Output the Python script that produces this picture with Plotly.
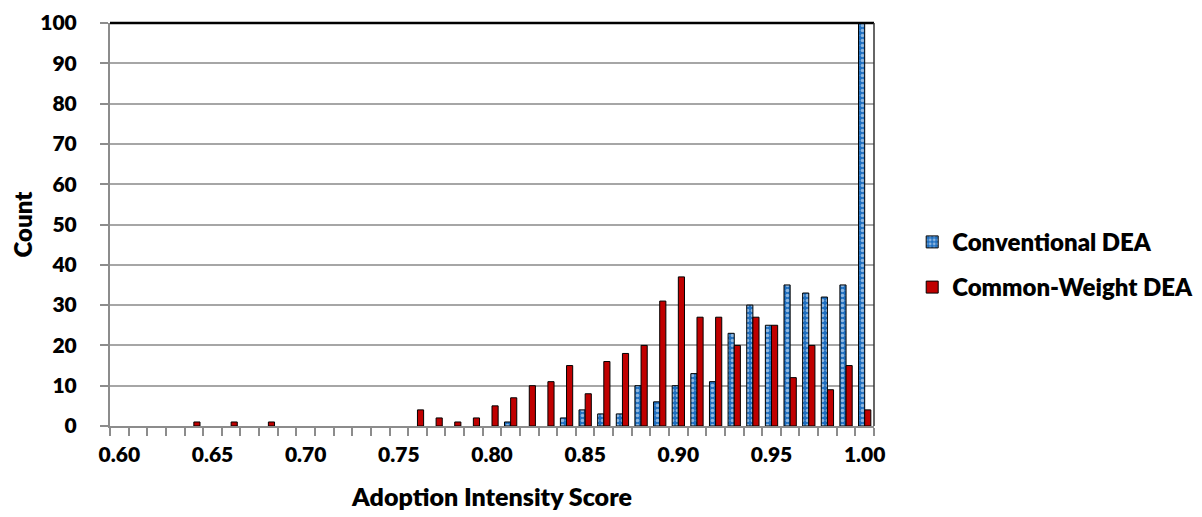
import plotly.graph_objects as go

scores = [0.60, 0.61, 0.62, 0.63, 0.64, 0.65, 0.66, 0.67, 0.68, 0.69,
          0.70, 0.71, 0.72, 0.73, 0.74, 0.75, 0.76, 0.77, 0.78, 0.79,
          0.80, 0.81, 0.82, 0.83, 0.84, 0.85, 0.86, 0.87, 0.88, 0.89,
          0.90, 0.91, 0.92, 0.93, 0.94, 0.95, 0.96, 0.97, 0.98, 0.99, 1.00]

conventional = [0, 0, 0, 0, 0, 0, 0, 0, 0, 0,
                0, 0, 0, 0, 0, 0, 0, 0, 0, 0,
                0, 1, 0, 0, 2, 4, 3, 3, 10, 6,
                10, 13, 11, 23, 30, 25, 35, 33, 32, 35, 100]

common_weight = [0, 0, 0, 0, 1, 0, 1, 0, 1, 0,
                 0, 0, 0, 0, 0, 0, 4, 2, 1, 2,
                 5, 7, 10, 11, 15, 8, 16, 18, 20, 31,
                 37, 27, 27, 20, 27, 25, 12, 20, 9, 15, 4]

x_tick_vals = [0.60, 0.65, 0.70, 0.75, 0.80, 0.85, 0.90, 0.95, 1.00]
x_tick_text = ["0.60", "0.65", "0.70", "0.75", "0.80", "0.85", "0.90", "0.95", "1.00"]
y_tick_vals = [0, 10, 20, 30, 40, 50, 60, 70, 80, 90, 100]

FONT = "Lato"
W = 800


def nz(vals):
    # empty bins draw no bar (Excel shows nothing for zero counts)
    return [v if v else None for v in vals]


fig = go.Figure()
fig.add_trace(go.Bar(
    x=scores, y=nz(conventional), name="Conventional DEA",
    legendgroup="a",
    marker=dict(color="#2E75B6", line=dict(color="black", width=1),
                pattern=dict(shape=".", fgcolor="white", bgcolor="#1F6FC0",
                             size=5, solidity=0.4)),
))
fig.add_trace(go.Bar(
    x=scores, y=nz(common_weight), name="Common-Weight DEA",
    legendgroup="b",
    marker=dict(color="#C00000", line=dict(color="black", width=1)),
))

fig.update_layout(
    width=1202, height=517,
    margin=dict(l=102, r=334, t=15, b=99),
    paper_bgcolor="white", plot_bgcolor="white",
    barmode="group", bargap=0.34, bargroupgap=0,
    font=dict(family=FONT, size=21, color="black"),
    legend=dict(x=1.05, y=0.40, xanchor="left", yanchor="middle",
                font=dict(family=FONT, size=24, color="black", weight=W),
                tracegroupgap=11, bgcolor="rgba(0,0,0,0)"),
    xaxis=dict(
        range=[0.595, 1.005], automargin=False,
        tickvals=x_tick_vals, ticktext=x_tick_text,
        ticks="outside", ticklen=0, ticklabeloverflow="allow",
        tickfont=dict(family=FONT, size=21, weight=W),
        showgrid=False, zeroline=False,
        showline=True, linecolor="#8C8C8C", linewidth=2,
        minor=dict(dtick=0.01, tick0=0.605, ticks="outside", ticklen=8,
                   tickcolor="#8C8C8C", tickwidth=1.5, showgrid=False),
        title=dict(text="Adoption Intensity Score",
                   font=dict(family=FONT, size=25, weight=W), standoff=23),
        ticklabelstandoff=9,
    ),
    yaxis=dict(
        range=[0, 100], automargin=False,
        tickvals=y_tick_vals,
        ticks="outside", ticklen=8, tickcolor="#8C8C8C", tickwidth=1.5,
        ticklabeloverflow="allow",
        tickfont=dict(family=FONT, size=21, weight=W),
        showgrid=True, gridcolor="#A6A6A6", gridwidth=1.5,
        zeroline=False,
        showline=True, linecolor="#8C8C8C", linewidth=2,
        title=dict(text="Count", font=dict(family=FONT, size=24, weight=W),
                   standoff=5),
        ticklabelstandoff=19,
    ),
)

# plot-area frame on top and right
fig.add_shape(type="line", xref="paper", yref="paper", x0=0, x1=1, y0=1, y1=1,
              line=dict(color="black", width=2.5))
fig.add_shape(type="line", xref="paper", yref="paper", x0=1, x1=1, y0=0, y1=1,
              line=dict(color="#333333", width=1.5))

fig.write_html("out.html")
